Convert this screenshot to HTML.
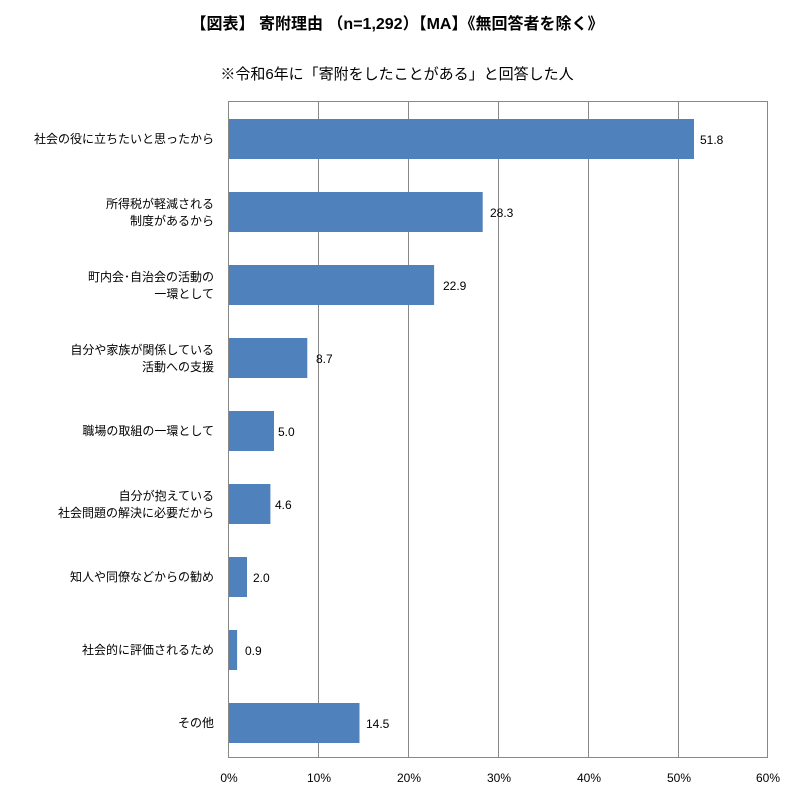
<!DOCTYPE html>
<html><head><meta charset="utf-8"><style>
body{margin:0;background:#fff;}
svg text{font-family:"Liberation Sans","Noto Sans CJK JP",sans-serif;fill:#000;}
</style></head><body>
<svg width="794" height="794" viewBox="0 0 794 794" xmlns="http://www.w3.org/2000/svg">
<text x="397" y="29" text-anchor="middle" font-size="16" font-weight="bold">【図表】 寄附理由 （n=1,292）【MA】《無回答者を除く》</text>
<text x="397" y="79" text-anchor="middle" font-size="15">※令和6年に「寄附をしたことがある」と回答した人</text>
<rect x="228.5" y="101.5" width="539" height="656" fill="#fff" stroke="#888"/>
<g stroke="#888">
<line x1="318.5" y1="101" x2="318.5" y2="758"/>
<line x1="408.5" y1="101" x2="408.5" y2="758"/>
<line x1="498.5" y1="101" x2="498.5" y2="758"/>
<line x1="588.5" y1="101" x2="588.5" y2="758"/>
<line x1="678.5" y1="101" x2="678.5" y2="758"/>
</g>
<g fill="#4f81bd">
<rect x="229" y="119" width="465" height="40"/>
<rect x="229" y="192" width="253.7" height="40"/>
<rect x="229" y="265" width="205.1" height="40"/>
<rect x="229" y="338" width="78.3" height="40"/>
<rect x="229" y="411" width="45" height="40"/>
<rect x="229" y="484" width="41.4" height="40"/>
<rect x="229" y="557" width="18" height="40"/>
<rect x="229" y="630" width="8.1" height="40"/>
<rect x="229" y="703" width="130.5" height="40"/>
</g>
<g font-size="12">
<text x="700" y="144">51.8</text>
<text x="490" y="217">28.3</text>
<text x="443" y="290">22.9</text>
<text x="316" y="363">8.7</text>
<text x="278" y="436">5.0</text>
<text x="275" y="509">4.6</text>
<text x="253" y="582">2.0</text>
<text x="245" y="655">0.9</text>
<text x="366" y="728">14.5</text>
</g>
<g font-size="12" text-anchor="end">
<text x="214" y="143">社会の役に立ちたいと思ったから</text>
<text x="214" y="208">所得税が軽減される</text>
<text x="214" y="225">制度があるから</text>
<text x="214" y="281">町内会･自治会の活動の</text>
<text x="214" y="298">一環として</text>
<text x="214" y="354">自分や家族が関係している</text>
<text x="214" y="371">活動への支援</text>
<text x="214" y="435">職場の取組の一環として</text>
<text x="214" y="500">自分が抱えている</text>
<text x="214" y="517">社会問題の解決に必要だから</text>
<text x="214" y="581">知人や同僚などからの勧め</text>
<text x="214" y="654">社会的に評価されるため</text>
<text x="214" y="727">その他</text>
</g>
<g font-size="12" text-anchor="middle">
<text x="229" y="782">0%</text>
<text x="319" y="782">10%</text>
<text x="409" y="782">20%</text>
<text x="499" y="782">30%</text>
<text x="589" y="782">40%</text>
<text x="679" y="782">50%</text>
<text x="768" y="782">60%</text>
</g>
</svg>
</body></html>
